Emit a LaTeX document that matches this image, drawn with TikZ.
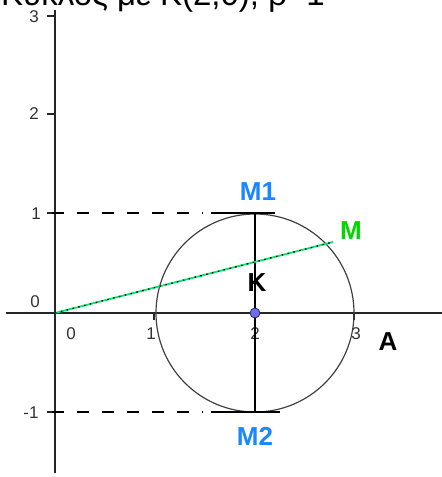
\documentclass[tikz,border=0pt]{standalone}
\usepackage{fontspec}
\setmainfont{Liberation Sans}
\definecolor{mblue}{RGB}{25,135,255}
\definecolor{mgreen}{RGB}{0,215,0}
\definecolor{lgreen}{RGB}{0,230,110}
\definecolor{kfill}{RGB}{110,110,235}
\definecolor{kdraw}{RGB}{40,40,120}
\definecolor{numgray}{RGB}{50,50,50}
\begin{document}
\begin{tikzpicture}[x=1pt,y=-1pt,
  axisline/.style={line width=1.4pt,black!85},
  tickline/.style={line width=1.2pt,black!85},
  dashline/.style={line width=1.4pt,black,dash pattern=on 12pt off 13pt,dash phase=-4pt},
  numlbl/.style={font=\fontsize{17}{17}\selectfont,text=numgray,inner sep=0pt},
  ptlbl/.style={font=\fontsize{26}{26}\selectfont\bfseries,inner sep=0pt},
  segline/.style={line width=1.3pt,black}]
\useasboundingbox (0,0) rectangle (442,477);
\begin{scope}
\clip (0,0) rectangle (442,477);
\node[anchor=base west,font=\fontsize{33}{33}\selectfont,inner sep=0pt] (title) at (1,5) {Κύκλος με Κ(2,0), ρ=1};
\end{scope}
% axes
\coordinate (xl) at (6,313);
\coordinate (xr) at (442,313);
\coordinate (yt) at (55,10);
\coordinate (yb) at (55,473);
\draw[axisline] (xl) -- (xr);
\draw[axisline] (yt) -- (yb);
% y ticks
\foreach \yy/\nm in {16/t3,114/t2,213/t1,412/tm}{
  \coordinate (\nm a) at (47,\yy);
  \coordinate (\nm b) at (55,\yy);
  \draw[tickline] (\nm a) -- (\nm b);
}
% x ticks
\foreach \xx/\nm in {154/u1,255/u2,354/u3}{
  \coordinate (\nm a) at (\xx,313);
  \coordinate (\nm b) at (\xx,320);
  \draw[tickline] (\nm a) -- (\nm b);
}
% numbers
\node[numlbl] (n3) at (34,17) {3};
\node[numlbl] (n2) at (34,114) {2};
\node[numlbl] (n1) at (36,214) {1};
\node[numlbl] (n0) at (35,302) {0};
\node[numlbl] (nm1) at (31,413) {-1};
\node[numlbl] (x0) at (71,334) {0};
\node[numlbl] (x1) at (151,334) {1};
\node[numlbl] (x2) at (255,334) {2};
\node[numlbl] (x3) at (356,334) {3};
% circle
\coordinate (K) at (255,313);
\draw[line width=1.2pt,black!75] (K) circle[radius=99pt];
% dashed lines
\coordinate (d1a) at (48,213);
\coordinate (d1b) at (203,213);
\coordinate (d2a) at (48,412);
\coordinate (d2b) at (203,412);
\draw[dashline] (d1a) -- (d1b);
\draw[dashline] (d2a) -- (d2b);
\coordinate (s1a) at (211,213);
\coordinate (s1b) at (275,213);
\coordinate (s2a) at (211,412);
\coordinate (s2b) at (280,412);
\draw[segline] (s1a) -- (s1b);
\draw[segline] (s2a) -- (s2b);
% vertical diameter
\coordinate (M1p) at (255,213);
\coordinate (M2p) at (255,412);
\draw[segline] (M1p) -- (M2p);
% green line
\coordinate (O) at (55,313);
\coordinate (Mp) at (333,242);
\draw[lgreen,line width=1.8pt] (O) -- (Mp);
\draw[black,line width=1.3pt,dash pattern=on 1.5pt off 4.5pt] (O) -- (Mp);
% point K
\node[circle,fill=kfill,draw=kdraw,line width=0.8pt,minimum size=10pt,inner sep=0pt] (Kpt) at (K) {};
% labels
\node[ptlbl,text=mblue] (lM1) at (258,192) {M1};
\node[ptlbl,text=mblue] (lM2) at (255,436) {M2};
\node[ptlbl,text=mgreen] (lM) at (351,231) {M};
\node[ptlbl] (lK) at (257,283) {K};
\node[ptlbl] (lA) at (388,342) {A};
\end{tikzpicture}
\end{document}
